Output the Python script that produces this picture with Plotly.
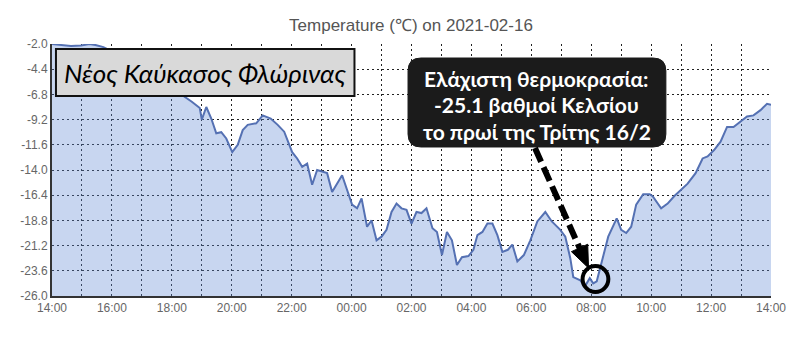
import math
import plotly.graph_objects as go

# ---------------- data ----------------
times = [
    "2021-02-15 14:00", "2021-02-15 14:18", "2021-02-15 14:38", "2021-02-15 14:58",
    "2021-02-15 15:15", "2021-02-15 15:27", "2021-02-15 15:43", "2021-02-15 16:00",
    "2021-02-15 16:30", "2021-02-15 17:00", "2021-02-15 17:30", "2021-02-15 18:00",
    "2021-02-15 18:26", "2021-02-15 18:40", "2021-02-15 18:56", "2021-02-15 19:00",
    "2021-02-15 19:09", "2021-02-15 19:19", "2021-02-15 19:29", "2021-02-15 19:39",
    "2021-02-15 19:49", "2021-02-15 20:01", "2021-02-15 20:12", "2021-02-15 20:22",
    "2021-02-15 20:32", "2021-02-15 20:49", "2021-02-15 21:02", "2021-02-15 21:18",
    "2021-02-15 21:32", "2021-02-15 21:45", "2021-02-15 22:01", "2021-02-15 22:11",
    "2021-02-15 22:21", "2021-02-15 22:31", "2021-02-15 22:41", "2021-02-15 22:51",
    "2021-02-15 23:11", "2021-02-15 23:21", "2021-02-15 23:41", "2021-02-16 00:01",
    "2021-02-16 00:11", "2021-02-16 00:20", "2021-02-16 00:31", "2021-02-16 00:40",
    "2021-02-16 00:50", "2021-02-16 01:00", "2021-02-16 01:10", "2021-02-16 01:20",
    "2021-02-16 01:30", "2021-02-16 01:40", "2021-02-16 01:50", "2021-02-16 02:00",
    "2021-02-16 02:10", "2021-02-16 02:20", "2021-02-16 02:30", "2021-02-16 02:42",
    "2021-02-16 02:51", "2021-02-16 03:01", "2021-02-16 03:11", "2021-02-16 03:21",
    "2021-02-16 03:31", "2021-02-16 03:41", "2021-02-16 03:54", "2021-02-16 04:04",
    "2021-02-16 04:12", "2021-02-16 04:22", "2021-02-16 04:32", "2021-02-16 04:42",
    "2021-02-16 04:52", "2021-02-16 05:02", "2021-02-16 05:13", "2021-02-16 05:22",
    "2021-02-16 05:32", "2021-02-16 05:45", "2021-02-16 05:58", "2021-02-16 06:12",
    "2021-02-16 06:28", "2021-02-16 06:41", "2021-02-16 06:58", "2021-02-16 07:08",
    "2021-02-16 07:18", "2021-02-16 07:24", "2021-02-16 07:38", "2021-02-16 07:47",
    "2021-02-16 07:57", "2021-02-16 08:04", "2021-02-16 08:11", "2021-02-16 08:21",
    "2021-02-16 08:34", "2021-02-16 08:51", "2021-02-16 09:00", "2021-02-16 09:10",
    "2021-02-16 09:20", "2021-02-16 09:30", "2021-02-16 09:44", "2021-02-16 09:57",
    "2021-02-16 10:03", "2021-02-16 10:20", "2021-02-16 10:33", "2021-02-16 10:46",
    "2021-02-16 11:00", "2021-02-16 11:13", "2021-02-16 11:29", "2021-02-16 11:43",
    "2021-02-16 11:53", "2021-02-16 12:06", "2021-02-16 12:19", "2021-02-16 12:32",
    "2021-02-16 12:45", "2021-02-16 12:55", "2021-02-16 13:12", "2021-02-16 13:25",
    "2021-02-16 13:39", "2021-02-16 13:52", "2021-02-16 14:00",
]

temperature = [
    -2.0, -2.1, -2.2, -2.15,
    -2.0, -2.1, -2.3, -2.7,
    -3.5, -4.3, -5.2, -6.2,
    -7.0, -7.5, -8.1, -9.2,
    -8.0, -9.1, -10.5, -10.4,
    -11.0, -12.3, -11.6, -10.2,
    -9.7, -9.55, -8.8, -9.1,
    -9.7, -10.35, -12.3, -12.9,
    -13.7, -13.4, -15.4, -14.0,
    -14.3, -16.1, -14.5, -17.3,
    -17.65, -16.7, -19.4, -18.8,
    -20.7, -20.35, -19.7, -18.0,
    -17.2, -17.65, -17.8, -19.1,
    -18.0, -18.1, -17.65, -19.55,
    -19.9, -22.1, -19.9, -20.7,
    -23.05, -22.3, -22.2, -21.6,
    -20.2, -19.9, -19.1, -19.1,
    -20.2, -21.8, -21.6, -21.1,
    -22.7, -22.1, -20.7, -18.9,
    -18.0, -18.9, -19.7, -20.35,
    -22.4, -24.2, -24.5, -25.1,
    -24.3, -24.8, -24.6, -22.7,
    -20.35, -18.6, -19.7, -20.0,
    -19.4, -17.3, -16.3, -16.3,
    -16.5, -17.65, -17.2, -16.5,
    -15.9, -15.3, -14.3, -12.9,
    -12.7, -12.1, -11.3, -9.9,
    -9.9, -9.55, -8.9, -8.8,
    -8.3, -7.7, -7.8,
]

y_ticks = [-2.0, -4.4, -6.8, -9.2, -11.6, -14.0, -16.4, -18.8, -21.2, -23.6, -26.0]
x_tick_vals = [
    "2021-02-15 14:00", "2021-02-15 16:00", "2021-02-15 18:00", "2021-02-15 20:00",
    "2021-02-15 22:00", "2021-02-16 00:00", "2021-02-16 02:00", "2021-02-16 04:00",
    "2021-02-16 06:00", "2021-02-16 08:00", "2021-02-16 10:00", "2021-02-16 12:00",
    "2021-02-16 14:00",
]
x_tick_labels = ["14:00", "16:00", "18:00", "20:00", "22:00", "00:00", "02:00",
                 "04:00", "06:00", "08:00", "10:00", "12:00", "14:00"]

title_text = "Temperature (℃) on 2021-02-16"
place_label = "Νέος Καύκασος Φλώρινας"
note_lines = ["Ελάχιστη θερμοκρασία:", "-25.1 βαθμοί Κελσίου", "το πρωί της Τρίτης 16/2"]

Y_MIN, Y_MAX = min(y_ticks), max(y_ticks)

# ---------------- layout geometry (page pixels) ----------------
PAGE_W, PAGE_H = 800, 362
OFF = 8                      # default body margin of the html page
W, H = PAGE_W - OFF, PAGE_H - OFF
PL, PR, PT, PB = 46, 771, 44, 296   # plot area in page pixels
ML, MR, MT, MB = PL - OFF, PAGE_W - PR, PT - OFF, PAGE_H - PB
PW, PH = PR - PL, PB - PT


def px(x):
    return (x - PL) / PW


def py(y):
    return (PB - y) / PH


fig = go.Figure()

fig.add_trace(go.Scatter(
    x=times, y=[Y_MIN] * len(times), mode="lines",
    line=dict(width=0, color="rgba(0,0,0,0)"), hoverinfo="skip", showlegend=False,
))
fig.add_trace(go.Scatter(
    x=times, y=temperature, mode="lines",
    line=dict(color="#5571b3", width=2),
    fill="tonexty", fillcolor="rgba(98,138,212,0.35)",
    showlegend=False,
))

GRID_COL = "#222222"
GRID_DASH = "2px,3px"
tickfont = dict(family="Liberation Sans, Arial, sans-serif", size=12, color="#666666")

fig.update_xaxes(
    type="date",
    range=[x_tick_vals[0], x_tick_vals[-1]],
    tickvals=x_tick_vals, ticktext=x_tick_labels,
    showgrid=True, gridcolor=GRID_COL, gridwidth=1.2, griddash=GRID_DASH,
    minor=dict(dtick=3600000, showgrid=True, gridcolor=GRID_COL, griddash=GRID_DASH, gridwidth=1.2),
    showline=True, linecolor="#333333", linewidth=2,
    ticks="", zeroline=False, tickfont=tickfont,
)
fig.update_yaxes(
    range=[Y_MIN, Y_MAX],
    tickvals=y_ticks, ticktext=[f"{v:.1f}" for v in y_ticks],
    showgrid=True, gridcolor=GRID_COL, gridwidth=1.2, griddash=GRID_DASH,
    showline=True, linecolor="#333333", linewidth=2,
    ticks="", zeroline=False, tickfont=tickfont,
)

shapes = []
shapes.append(dict(type="rect", xref="paper", yref="paper",
                   x0=px(50), x1=px(351), y0=py(49), y1=py(96),
                   fillcolor="#d9d9d9", line=dict(color="#111111", width=2), layer="above"))

bx0, bx1, by0, by1, r = 405, 665, 58, 147, 13


def P(x, y):
    return f"{px(x):.5f},{py(y):.5f}"


path = (f"M {P(bx0 + r, by0)} L {P(bx1 - r, by0)} Q {P(bx1, by0)} {P(bx1, by0 + r)} "
        f"L {P(bx1, by1 - r)} Q {P(bx1, by1)} {P(bx1 - r, by1)} "
        f"L {P(bx0 + r, by1)} Q {P(bx0, by1)} {P(bx0, by1 - r)} "
        f"L {P(bx0, by0 + r)} Q {P(bx0, by0)} {P(bx0 + r, by0)} Z")
shapes.append(dict(type="path", xref="paper", yref="paper", path=path,
                   fillcolor="#1b1b1b", line=dict(color="#1b1b1b", width=1), layer="above"))

tx, ty = 587, 268
sx, sy = 533, 148
dx, dy = tx - sx, ty - sy
L = math.hypot(dx, dy)
ux, uy = dx / L, dy / L
hl, hw = 22, 9
bxc, byc = tx - hl * ux, ty - hl * uy
shapes.append(dict(type="line", xref="paper", yref="paper",
                   x0=px(sx), y0=py(sy), x1=px(bxc + 2 * ux), y1=py(byc + 2 * uy),
                   line=dict(color="#000000", width=6, dash="15px,6px"), layer="above"))
shapes.append(dict(type="path", xref="paper", yref="paper",
                   path=f"M {P(tx, ty)} L {P(bxc + hw * uy, byc - hw * ux)} L {P(bxc - hw * uy, byc + hw * ux)} Z",
                   fillcolor="#000000", line=dict(color="#000000", width=1), layer="above"))
shapes.append(dict(type="circle", xref="paper", yref="paper",
                   x0=px(581), x1=px(607), y0=py(266), y1=py(292),
                   line=dict(color="#000000", width=4), layer="above"))

annotations = [
    dict(text=place_label, xref="paper", yref="paper", x=px(200), y=py(73),
         showarrow=False, xanchor="center", yanchor="middle",
         font=dict(family="Lato, Noto Sans, sans-serif", size=26, color="#000000", style="italic")),
]
for i, line in enumerate(note_lines):
    annotations.append(dict(text=f"<b>{line}</b>", xref="paper", yref="paper",
                            x=px(535), y=py(78 + 26.5 * i), showarrow=False,
                            xanchor="center", yanchor="middle",
                            font=dict(family="Lato, Noto Sans, sans-serif", size=21, color="#ffffff")))

fig.update_layout(
    width=W, height=H,
    margin=dict(l=ML, r=MR, t=MT, b=MB),
    plot_bgcolor="#ffffff", paper_bgcolor="#ffffff",
    title=dict(text=title_text, x=px(408), xref="paper", xanchor="center",
               y=1 - (25 - OFF) / H, yref="container", yanchor="middle",
               font=dict(family="Liberation Sans, Arial, sans-serif", size=17, color="#555555")),
    shapes=shapes, annotations=annotations,
    showlegend=False,
)

fig.write_html("out.html")
